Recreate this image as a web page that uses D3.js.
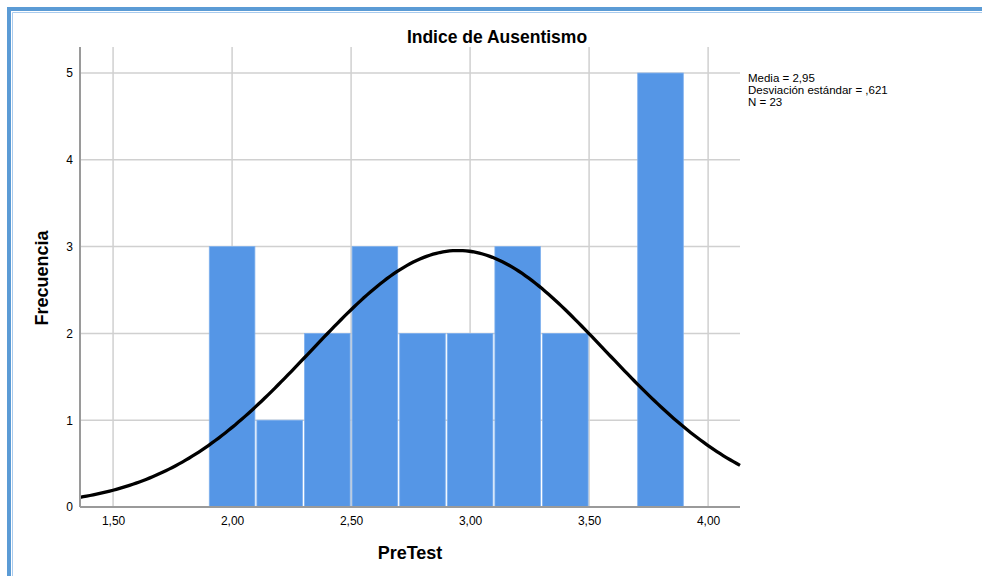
<!DOCTYPE html>
<html>
  <head>
    <title>Indice de Ausentismo</title>
    <script src="https://d3js.org/d3.v7.min.js"></script>
    <style type="text/css">
      body { margin: 0; background: #fff; }
      text { font-family: "Liberation Sans", Arial, sans-serif; fill: #000; }
    </style>
  </head>
  <body>
    <div id="chart"></div>
    <script>
      // histogram bins (lower edge) and frequencies
      var binStarts = [1.9, 2.1, 2.3, 2.5, 2.7, 2.9, 3.1, 3.3, 3.5, 3.7];
      var counts = [3, 1, 2, 3, 2, 2, 3, 2, 0, 5];
      var binWidth = 0.2;
      var xTicks = [1.5, 2.0, 2.5, 3.0, 3.5, 4.0];
      var yTicks = [0, 1, 2, 3, 4, 5];
      // summary stats shown in the legend
      var media = 2.95, sd = 0.621, n = 23;
      var statsLines = ["Media = 2,95", "Desviación estándar = ,621", "N = 23"];

      var width = 982, height = 576;
      var pLeft = 80, pRight = 740, pTop = 47, pBottom = 507;

      var svg = d3.select("#chart").append("svg")
        .attr("width", width)
        .attr("height", height);

      // window frame
      svg.append("path")
        .attr("d", "M9,576 V9 H982")
        .attr("fill", "none").attr("stroke", "#5b9bd5").attr("stroke-width", 4);
      svg.append("path")
        .attr("d", "M12.5,576 V12.5 H982")
        .attr("fill", "none").attr("stroke", "#a9cbee").attr("stroke-width", 1);

      var x = d3.scaleLinear().domain([1.361, 4.134]).range([pLeft, pRight]);
      var y = d3.scaleLinear().domain([0, 5.3]).range([pBottom, pTop]);

      // grid
      svg.append("g").selectAll("line")
        .data(xTicks).enter().append("line")
        .attr("x1", function(d) { return x(d); })
        .attr("x2", function(d) { return x(d); })
        .attr("y1", pTop).attr("y2", pBottom)
        .attr("stroke", "#d0d0d0").attr("stroke-width", 1.5);
      svg.append("g").selectAll("line")
        .data(yTicks.slice(1)).enter().append("line")
        .attr("x1", pLeft).attr("x2", pRight)
        .attr("y1", function(d) { return y(d); })
        .attr("y2", function(d) { return y(d); })
        .attr("stroke", "#d0d0d0").attr("stroke-width", 1.5);

      // bars
      svg.append("g").selectAll("rect")
        .data(binStarts).enter().append("rect")
        .attr("x", function(d) { return x(d) + 1; })
        .attr("width", function(d) { return x(d + binWidth) - x(d) - 2; })
        .attr("y", function(d, i) { return y(counts[i]); })
        .attr("height", function(d, i) { return y(0) - y(counts[i]); })
        .attr("fill", "#5596e6")
        .attr("stroke", "#7eb0ee").attr("stroke-width", 0.8);

      // fitted normal curve
      var peak = n * binWidth / (sd * Math.sqrt(2 * Math.PI));
      var pts = d3.range(0, 201).map(function(i) {
        var v = 1.361 + (4.134 - 1.361) * i / 200;
        var z = (v - media) / sd;
        return [v, peak * Math.exp(-0.5 * z * z)];
      });
      svg.append("path")
        .datum(pts)
        .attr("d", d3.line()
          .x(function(d) { return x(d[0]); })
          .y(function(d) { return y(d[1]); }))
        .attr("fill", "none").attr("stroke", "#000").attr("stroke-width", 3.3);

      // axes
      var fmt = function(d) { return d3.format(".2f")(d).replace(".", ","); };
      var gx = svg.append("g")
        .attr("transform", "translate(0," + pBottom + ")")
        .call(d3.axisBottom(x).tickValues(xTicks).tickSize(0).tickPadding(9).tickFormat(fmt));
      var gy = svg.append("g")
        .attr("transform", "translate(" + pLeft + ",0)")
        .call(d3.axisLeft(y).tickValues(yTicks).tickSize(0).tickPadding(7).tickFormat(d3.format("d")));
      gx.select(".domain").attr("stroke", "#9a9a9a").attr("stroke-width", 2)
        .attr("d", "M" + pLeft + ",0H" + pRight);
      gy.select(".domain").attr("stroke", "#9a9a9a").attr("stroke-width", 2)
        .attr("d", "M0," + pTop + "V" + pBottom);
      svg.selectAll(".tick text")
        .style("font-family", "'Liberation Sans', Arial, sans-serif")
        .style("font-size", "12px").attr("fill", "#222");

      // titles
      svg.append("text")
        .attr("x", 497).attr("y", 43)
        .attr("text-anchor", "middle")
        .style("font-size", "17.5px").style("font-weight", "bold")
        .text("Indice de Ausentismo");
      svg.append("text")
        .attr("x", 410).attr("y", 559)
        .attr("text-anchor", "middle")
        .style("font-size", "18px").style("font-weight", "bold")
        .text("PreTest");
      svg.append("text")
        .attr("transform", "translate(48,278) rotate(-90)")
        .attr("text-anchor", "middle")
        .style("font-size", "18px").style("font-weight", "bold")
        .text("Frecuencia");

      // stats box
      svg.append("g").selectAll("text")
        .data(statsLines).enter().append("text")
        .attr("x", 748)
        .attr("y", function(d, i) { return 82 + i * 12; })
        .style("font-size", "11.5px")
        .text(function(d) { return d; });
    </script>
  </body>
</html>
